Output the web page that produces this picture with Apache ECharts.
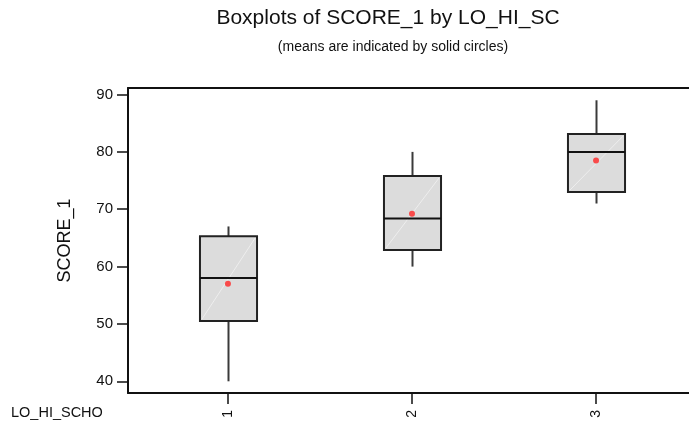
<!DOCTYPE html>
<html>
<head>
<meta charset="utf-8">
<script src="https://cdn.jsdelivr.net/npm/echarts@6/dist/echarts.min.js"></script>
<style>html,body{margin:0;padding:0;background:#fff}#c{width:689px;height:428px}</style>
</head>
<body>
<div id="c"></div>
<script>
var categories = [1, 2, 3];
var whiskerLow = [40, 60, 71];
var q1 = [50.5, 62.9, 73];
var median = [58, 68.4, 80];
var q3 = [65.3, 75.8, 83.1];
var whiskerHigh = [67, 80, 89];
var means = [57, 69.2, 78.5];
var yTicks = [40, 50, 60, 70, 80, 90];

var boxData = categories.map(function (c, i) {
  return [c, whiskerLow[i], q1[i], median[i], q3[i], whiskerHigh[i]];
});
var meanData = categories.map(function (c, i) { return [c, means[i]]; });

var chart = echarts.init(document.getElementById('c'), null, { renderer: 'canvas' });
var FONT = 'Liberation Sans, Arial, sans-serif';

function renderBox(params, api) {
  var x = api.value(0);
  var lo = api.coord([x, api.value(1)]);
  var b1 = api.coord([x, api.value(2)]);
  var md = api.coord([x, api.value(3)]);
  var b3 = api.coord([x, api.value(4)]);
  var hi = api.coord([x, api.value(5)]);
  var w = api.size([0.31, 0])[0];
  var cx = Math.round(lo[0]) + 0.5;
  var left = cx - w / 2, right = cx + w / 2;
  return {
    type: 'group',
    children: [
      { type: 'line', shape: { x1: cx, y1: lo[1], x2: cx, y2: b1[1] }, style: { stroke: '#3a3a3a', lineWidth: 2 } },
      { type: 'line', shape: { x1: cx, y1: b3[1], x2: cx, y2: hi[1] }, style: { stroke: '#3a3a3a', lineWidth: 2 } },
      { type: 'rect', shape: { x: left, y: b3[1], width: w, height: b1[1] - b3[1] }, style: { fill: '#dcdcdc', stroke: '#222', lineWidth: 2 } },
      { type: 'line', shape: { x1: left + 2, y1: b1[1] - 2, x2: right - 2, y2: b3[1] + 2 }, style: { stroke: '#eeeeee', lineWidth: 1 } },
      { type: 'line', shape: { x1: left, y1: md[1], x2: right, y2: md[1] }, style: { stroke: '#111', lineWidth: 2 } }
    ]
  };
}

var option = {
  animation: false,
  backgroundColor: '#fff',
  grid: { left: 128, top: 88, right: 0, bottom: 35, containLabel: false },
  graphic: [
    { type: 'text', x: 388, y: 8, style: { text: 'Boxplots of SCORE_1 by LO_HI_SC', font: '21px ' + FONT, fill: '#111', textAlign: 'center', textVerticalAlign: 'top' } },
    { type: 'text', x: 393, y: 40, style: { text: '(means are indicated by solid circles)', font: '14px ' + FONT, fill: '#111', textAlign: 'center', textVerticalAlign: 'top' } },
    { type: 'text', x: 11, y: 405, style: { text: 'LO_HI_SCHO', font: '14.5px ' + FONT, fill: '#111', textVerticalAlign: 'top' } }
  ],
  xAxis: [{
    type: 'value', min: 0.457, max: 3.505,
    splitLine: { show: false },
    axisLine: { show: true, onZero: false, lineStyle: { color: '#111', width: 2 } },
    axisTick: { show: true, customValues: categories, length: 11, lineStyle: { color: '#111', width: 1.5 } },
    axisLabel: { show: true, customValues: categories, rotate: 90, margin: 17, fontFamily: FONT, fontSize: 14, color: '#111' }
  }, {
    type: 'value', position: 'top', min: 0.457, max: 3.505,
    splitLine: { show: false },
    axisLine: { show: true, onZero: false, lineStyle: { color: '#111', width: 2 } },
    axisTick: { show: false }, axisLabel: { show: false }
  }],
  yAxis: {
    type: 'value', min: 37.96, max: 91.14,
    name: 'SCORE_1', nameLocation: 'middle', nameGap: 54, nameRotate: 90,
    nameTextStyle: { fontFamily: FONT, fontSize: 18, color: '#111' },
    splitLine: { show: false },
    axisLine: { show: true, onZero: false, lineStyle: { color: '#111', width: 2 } },
    axisTick: { show: true, customValues: yTicks, length: 11, lineStyle: { color: '#111', width: 1.5 } },
    axisLabel: { show: true, customValues: yTicks, margin: 15, fontFamily: FONT, fontSize: 15, color: '#111' }
  },
  series: [{
    type: 'custom', renderItem: renderBox, data: boxData,
    encode: { x: 0, y: [1, 2, 3, 4, 5] }, clip: false
  }, {
    type: 'scatter', data: meanData, symbol: 'circle', symbolSize: 6,
    itemStyle: { color: '#ff2626' }, z: 5
  }]
};
chart.setOption(option);
</script>
</body>
</html>
